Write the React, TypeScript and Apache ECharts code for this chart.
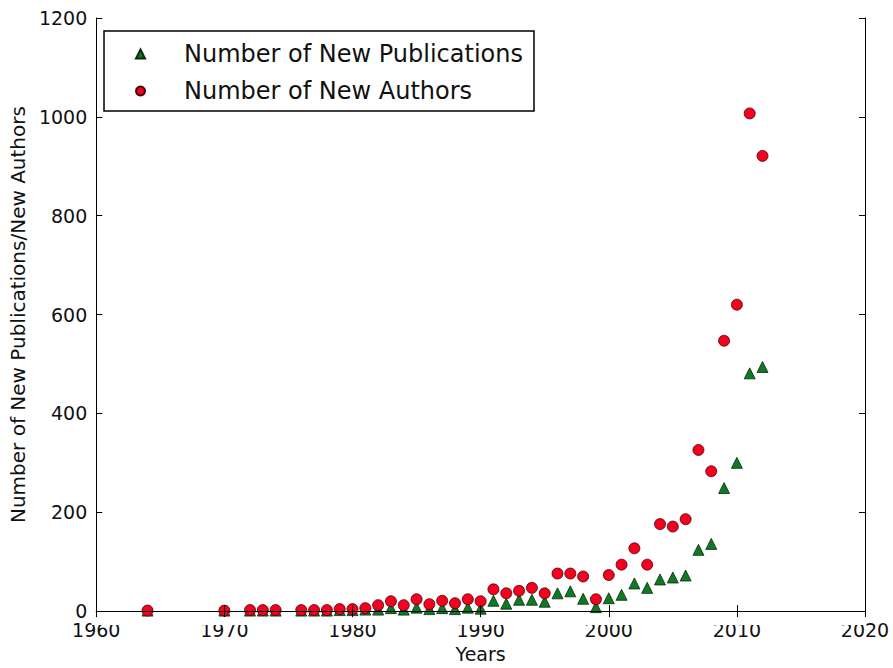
import React, { useEffect, useRef } from "react";
import * as echarts from "echarts";

const years = [1964, 1970, 1972, 1973, 1974, 1976, 1977, 1978, 1979, 1980, 1981, 1982, 1983, 1984, 1985, 1986, 1987, 1988, 1989, 1990, 1991, 1992, 1993, 1994, 1995, 1996, 1997, 1998, 1999, 2000, 2001, 2002, 2003, 2004, 2005, 2006, 2007, 2008, 2009, 2010, 2011, 2012];
const newPublications = [1, 1, 1, 1, 1, 1, 1, 1, 2, 2, 3, 3, 6, 3, 7, 4, 6, 4, 7, 5, 21, 15, 23, 23, 19, 36, 40, 25, 8, 26, 33, 56, 47, 64, 68, 72, 124, 136, 249, 300, 481, 494];
const newAuthors = [1, 1, 2, 2, 2, 2, 2, 2, 4, 4, 6, 12, 20, 12, 24, 14, 21, 16, 24, 20, 44, 36, 41, 47, 36, 76, 76, 70, 24, 73, 94, 127, 94, 176, 171, 186, 326, 283, 547, 620, 1007, 921];
const xTicks = [1960, 1970, 1980, 1990, 2000, 2010, 2020];
const yTicks = [0, 200, 400, 600, 800, 1000, 1200];
const seriesNames = ["Number of New Publications", "Number of New Authors"];

const FONT = "DejaVu Sans";

export default function App() {
  const ref = useRef<HTMLDivElement>(null);
  useEffect(() => {
    if (!ref.current) return;
    const chart = echarts.init(ref.current, null, { renderer: "svg" });
    const xMin = xTicks[0];
    const xMax = xTicks[xTicks.length - 1];
    const yMin = yTicks[0];
    const yMax = yTicks[yTicks.length - 1];
    const common = {
      z: 6,
      axisLine: { show: true, lineStyle: { color: "#000", width: 1 } },
      axisTick: { show: true, inside: true, length: 6, lineStyle: { color: "#000" } },
      splitLine: { show: false },
    };
    const plain = (v: number) => String(v);
    chart.setOption({
      animation: false,
      backgroundColor: "#fff",
      textStyle: { fontFamily: FONT },
      grid: { left: 91, right: 28, top: 18, bottom: 49, containLabel: false },
      legend: {
        orient: "vertical",
        left: 104,
        top: 31,
        backgroundColor: "#fff",
        borderColor: "#000",
        borderWidth: 1.5,
        borderRadius: 0,
        padding: [9, 11, 6, 31],
        itemGap: 9,
        itemWidth: 9,
        itemHeight: 9,
        z: 10,
        data: seriesNames,
        textStyle: {
          fontFamily: FONT,
          fontSize: 24,
          color: "#111",
          lineHeight: 28,
          padding: [0, 0, 0, 34],
        },
      },
      graphic: {
        z: 100,
        elements: [
          {
            type: "rect",
            z: 100,
            silent: true,
            shape: { x: 91.5, y: 620, width: 773, height: 5 },
            style: { fill: "#fff" },
          },
        ],
      },
      xAxis: [
        {
          type: "value",
          min: xMin,
          max: xMax,
          interval: 10,
          ...common,
          axisLabel: { fontFamily: FONT, fontSize: 19, color: "#111", margin: 9, formatter: plain },
          name: "Years",
          nameLocation: "middle",
          nameGap: 27,
          nameTextStyle: { fontFamily: FONT, fontSize: 19, color: "#111" },
        },
        {
          type: "value",
          position: "top",
          min: xMin,
          max: xMax,
          interval: 10,
          ...common,
          axisLabel: { show: false },
        },
      ],
      yAxis: [
        {
          type: "value",
          min: yMin,
          max: yMax,
          interval: 200,
          ...common,
          axisLabel: { fontFamily: FONT, fontSize: 19, color: "#111", margin: 9, formatter: plain },
          name: "Number of New Publications/New Authors",
          nameLocation: "middle",
          nameGap: 62,
          nameTextStyle: { fontFamily: FONT, fontSize: 20, color: "#111" },
        },
        {
          type: "value",
          position: "right",
          min: yMin,
          max: yMax,
          interval: 200,
          ...common,
          axisLabel: { show: false },
        },
      ],
      series: [
        {
          name: seriesNames[0],
          type: "scatter",
          symbol: "triangle",
          symbolSize: 11,
          clip: true,
          itemStyle: { color: "#0f7a24", borderColor: "#0a2a0e", borderWidth: 0.8, opacity: 1 },
          data: years.map((y, i) => [y, newPublications[i]]),
        },
        {
          name: seriesNames[1],
          type: "scatter",
          symbol: "circle",
          symbolSize: 11,
          clip: true,
          itemStyle: { color: "#f5001e", borderColor: "#4a0008", borderWidth: 0.8, opacity: 1 },
          data: years.map((y, i) => [y, newAuthors[i]]),
        },
      ],
    });
    return () => chart.dispose();
  }, []);
  return <div ref={ref} style={{ width: 893, height: 668, position: "absolute", left: 0, top: 0 }} />;
}
